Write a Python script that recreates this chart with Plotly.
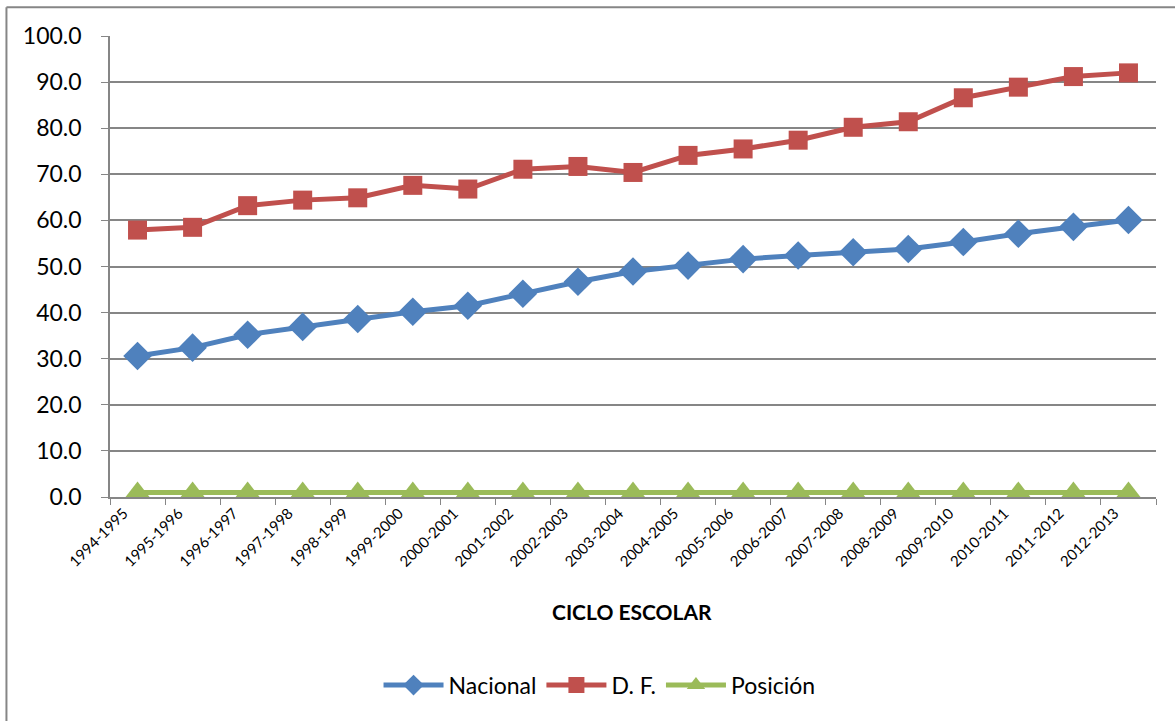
import plotly.graph_objects as go

ciclos = ["1994-1995", "1995-1996", "1996-1997", "1997-1998", "1998-1999", "1999-2000",
          "2000-2001", "2001-2002", "2002-2003", "2003-2004", "2004-2005", "2005-2006",
          "2006-2007", "2007-2008", "2008-2009", "2009-2010", "2010-2011", "2011-2012",
          "2012-2013"]
nacional = [30.6, 32.4, 35.2, 36.9, 38.6, 40.2, 41.5, 44.1, 46.7, 48.9, 50.2, 51.6,
            52.4, 53.1, 53.8, 55.3, 57.1, 58.6, 60.1]
df = [57.9, 58.5, 63.2, 64.4, 64.9, 67.6, 66.8, 71.1, 71.7, 70.4, 74.1, 75.5,
      77.4, 80.2, 81.4, 86.6, 88.9, 91.2, 92.0]
posicion = [1.0] * 19

FONT = "Lato"
fig = go.Figure()
fig.add_trace(go.Scatter(x=ciclos, y=nacional, name="Nacional", mode="lines+markers",
                         line=dict(color="#4F81BD", width=5),
                         marker=dict(symbol="diamond", size=22, color="#4F81BD")))
fig.add_trace(go.Scatter(x=ciclos, y=df, name="D. F.", mode="lines+markers",
                         line=dict(color="#C0504D", width=5),
                         marker=dict(symbol="square", size=19, color="#C0504D")))
fig.add_trace(go.Scatter(x=ciclos, y=posicion, name="Posición", mode="lines+markers",
                         line=dict(color="#9BBB59", width=5),
                         marker=dict(symbol="triangle-up", size=22, color="#9BBB59")))

fig.update_layout(
    width=1175, height=721,
    margin=dict(l=110, r=19, t=36, b=224),
    paper_bgcolor="white", plot_bgcolor="white",
    font=dict(family=FONT, color="black"),
    showlegend=True,
    legend=dict(orientation="h", x=0.468, y=-0.408, xanchor="center", yanchor="middle",
                font=dict(size=23, family=FONT), itemwidth=60),
    xaxis=dict(type="category", tickangle=-45, tickfont=dict(size=15, family=FONT),
               showgrid=False, showline=True, linecolor="#868686", linewidth=1.5,
               ticks="outside", tickson="boundaries", ticklen=6, tickcolor="#868686",
               ticklabelshift=-14, range=[-0.5, 18.5]),
    yaxis=dict(range=[0, 100], dtick=10, tickformat=".1f", tickfont=dict(size=23, family=FONT),
               showgrid=True, gridcolor="#868686", gridwidth=1.5,
               showline=True, linecolor="#868686", linewidth=1.5,
               ticks="outside", ticklen=7, tickcolor="#868686", zeroline=False,
               ticklabelstandoff=15),
    annotations=[dict(text="<b>CICLO ESCOLAR</b>", x=0.499, y=-0.249, xref="paper", yref="paper",
                      showarrow=False, font=dict(size=21, family=FONT), xanchor="center",
                      yanchor="middle")],
    shapes=[
        dict(type="line", xref="paper", yref="paper", x0=-0.099, x1=1.05, y0=1.0622, y1=1.0622,
             line=dict(color="#868686", width=2)),
        dict(type="line", xref="paper", yref="paper", x0=-0.099, x1=-0.099, y0=1.0622, y1=-0.6,
             line=dict(color="#868686", width=2)),
    ],
)
fig.write_html("out.html", config={"displayModeBar": False},
               post_script="document.body.style.margin='0';")
